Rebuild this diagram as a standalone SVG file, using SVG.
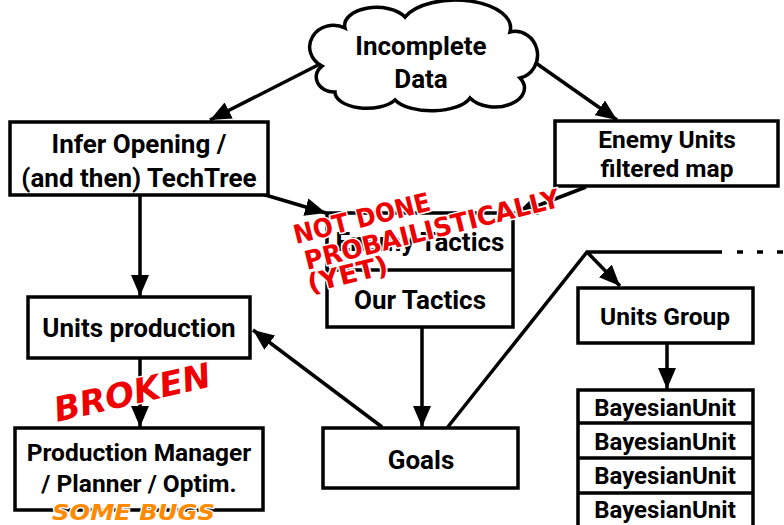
<svg xmlns="http://www.w3.org/2000/svg" width="784" height="525" viewBox="0 0 784 525">
  <defs>
    <marker id="arrow" markerUnits="userSpaceOnUse" markerWidth="22" markerHeight="18" refX="21" refY="9" orient="auto">
      <path d="M0,0 L21,9 L0,18 Z" fill="#000"/>
    </marker>
    <style>
      .box { fill: #fff; stroke: #000; stroke-width: 3.5; }
      .lbl { font-family: Roboto, "DejaVu Sans", sans-serif; font-weight: bold; font-size: 26px; fill: #000; text-anchor: middle; }
      .small { font-size: 24.5px; }
      .tiny { font-size: 24px; }
      .edge { fill: none; stroke: #000; stroke-width: 3.5; }
      .note { font-family: "DejaVu Sans", sans-serif; font-weight: bold; fill: #ee0000; stroke: #fff; stroke-width: 3; stroke-linejoin: round; paint-order: stroke; }
      .bugs { font-family: "DejaVu Sans", sans-serif; font-weight: bold; font-style: italic; fill: #ff8a00; stroke: #fff; stroke-width: 2.5; stroke-linejoin: round; paint-order: stroke; }
    </style>
  </defs>
  <rect width="784" height="525" fill="#fff"/>

  <!-- connectors -->
  <g id="connectors">
    <line class="edge" x1="320" y1="64" x2="210" y2="120" marker-end="url(#arrow)"/>
    <line class="edge" x1="533" y1="61" x2="617" y2="120" marker-end="url(#arrow)"/>
    <line class="edge" x1="140" y1="195" x2="140" y2="296" marker-end="url(#arrow)"/>
    <line class="edge" x1="262" y1="194" x2="326" y2="213" marker-end="url(#arrow)"/>
    <line class="edge" x1="586" y1="187" x2="516" y2="214" marker-end="url(#arrow)"/>
    <line class="edge" x1="422" y1="327" x2="422" y2="427" marker-end="url(#arrow)"/>
    <line class="edge" x1="382" y1="427" x2="253" y2="330" marker-end="url(#arrow)"/>
    <line class="edge" x1="140" y1="358" x2="140" y2="427" marker-end="url(#arrow)"/>
    <polyline class="edge" points="447,428 587,252 722,252"/>
    <line class="edge" x1="737" y1="252" x2="784" y2="252" stroke-dasharray="6 14" stroke-width="4"/>
    <line class="edge" x1="587" y1="252" x2="620" y2="286" marker-end="url(#arrow)"/>
    <line class="edge" x1="667" y1="343" x2="667" y2="389" marker-end="url(#arrow)"/>
  </g>

  <!-- Incomplete Data cloud -->
  <g id="incomplete-data">
    <path class="box" d="M322,66 A22,20 0 0 1 345,28 A32,18 0 0 1 405,17 A55,28 0 0 1 510,32 A22,23 0 0 1 520,78 A28,18 0 0 1 470,98 A40,18 0 0 1 395,100 A32,16 0 0 1 335,92 A18,15 0 0 1 322,66 Z"/>
    <text class="lbl" x="421" y="55">Incomplete</text>
    <text class="lbl" x="421" y="88">Data</text>
  </g>

  <g id="infer-opening">
    <rect class="box" x="10" y="122" width="258" height="73"/>
    <text class="lbl" x="139" y="153">Infer Opening /</text>
    <text class="lbl" x="139" y="187">(and then) TechTree</text>
  </g>

  <g id="enemy-units-map">
    <rect class="box" x="555" y="121" width="223" height="65"/>
    <text class="lbl small" x="667" y="148">Enemy Units</text>
    <text class="lbl small" x="667" y="177">filtered map</text>
  </g>

  <g id="tactics">
    <rect class="box" x="327" y="213" width="186" height="114"/>
    <line class="edge" x1="327" y1="270" x2="513" y2="270"/>
    <text class="lbl" x="420" y="251">Enemy Tactics</text>
    <text class="lbl" x="420" y="309">Our Tactics</text>
  </g>

  <g id="units-production">
    <rect class="box" x="28" y="297" width="222" height="61"/>
    <text class="lbl" x="139" y="337">Units production</text>
  </g>

  <g id="goals">
    <rect class="box" x="323" y="428" width="195" height="60"/>
    <text class="lbl" x="421" y="469">Goals</text>
  </g>

  <g id="production-manager">
    <rect class="box" x="15" y="428" width="248" height="82"/>
    <text class="lbl small" x="139" y="461">Production Manager</text>
    <text class="lbl small" x="139" y="492">/ Planner / Optim.</text>
  </g>

  <g id="units-group">
    <rect class="box" x="578" y="288" width="175" height="55"/>
    <text class="lbl small" x="665" y="325">Units Group</text>
  </g>

  <g id="bayesian-units">
    <rect class="box" x="578" y="390" width="175" height="140"/>
    <line class="edge" x1="578" y1="423" x2="753" y2="423"/>
    <line class="edge" x1="578" y1="458" x2="753" y2="458"/>
    <line class="edge" x1="578" y1="493" x2="753" y2="493"/>
    <text class="lbl tiny" x="665" y="416">BayesianUnit</text>
    <text class="lbl tiny" x="665" y="450">BayesianUnit</text>
    <text class="lbl tiny" x="665" y="484">BayesianUnit</text>
    <text class="lbl tiny" x="665" y="518">BayesianUnit</text>
  </g>

  <!-- status notes -->
  <g id="notes">
    <text class="note" font-size="26" transform="translate(296,244) rotate(-14)" textLength="140" lengthAdjust="spacingAndGlyphs">NOT DONE</text>
    <text class="note" font-size="26" transform="translate(307,270) rotate(-14)" textLength="262" lengthAdjust="spacingAndGlyphs">PROBAILISTICALLY</text>
    <text class="note" font-size="26" transform="translate(310,293) rotate(-14)" textLength="82" lengthAdjust="spacingAndGlyphs">(YET)</text>
    <text class="note" font-size="34" font-style="italic" transform="translate(57,422) rotate(-13)" textLength="160" lengthAdjust="spacingAndGlyphs">BROKEN</text>
    <text class="bugs" font-size="21" x="52" y="520" textLength="163" lengthAdjust="spacingAndGlyphs">SOME BUGS</text>
  </g>
</svg>
